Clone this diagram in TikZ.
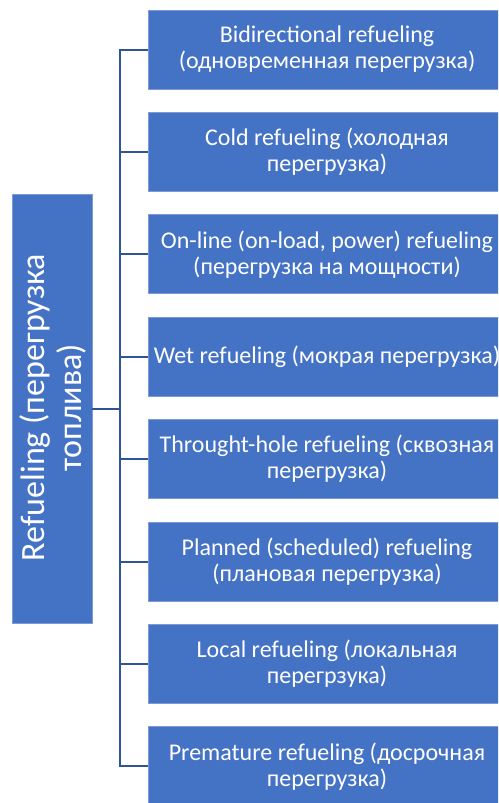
\documentclass[tikz,border=0pt]{standalone}
\usepackage{fontspec}
\setmainfont{Carlito}
\definecolor{boxfill}{HTML}{4472C4}
\definecolor{boxedge}{HTML}{7C9BD6}
\definecolor{linkblue}{HTML}{2F5597}
\begin{document}
\begin{tikzpicture}[x=1pt,y=-1pt,
  item/.style={draw=boxedge,line width=0.8pt,fill=boxfill,text=white,
    minimum width=358pt,minimum height=79pt,inner sep=0pt,align=center,
    font=\fontsize{24}{26}\selectfont},
  rootbox/.style={draw=boxedge,line width=0.8pt,fill=boxfill,text=white,
    minimum width=80pt,minimum height=429pt,inner sep=0pt},
  link/.style={draw=linkblue,line width=2pt}]
\useasboundingbox (0,0) rectangle (498,803);
\clip (0,0) rectangle (498,803);

% root node
\node[rootbox] (root) at (52,408.5) {};
\node[text=white,rotate=90,align=center,inner sep=0pt,
  font=\fontsize{34}{37}\selectfont] (roottext) at (53,407.5)
  {Refueling (перегрузка\\топлива)};

% branch nodes
\node[item] (b1) at (327,49.5)  {Bidirectional refueling\\(одновременная перегрузка)};
\node[item] (b2) at (327,151.9) {Cold refueling (холодная\\перегрузка)};
\node[item] (b3) at (327,254.3) {On-line (on-load, power) refueling\\(перегрузка на мощности)};
\node[item] (b4) at (327,356.7) {Wet refueling (мокрая перегрузка)};
\node[item] (b5) at (327,459.1) {Throught-hole refueling (сквозная\\перегрузка)};
\node[item] (b6) at (327,561.5) {Planned (scheduled) refueling\\(плановая перегрузка)};
\node[item] (b7) at (327,663.9) {Local refueling (локальная\\перегрзука)};
\node[item] (b8) at (327,766.3) {Premature refueling (досрочная\\перегрузка)};

% connectors
\coordinate (trunk) at (120,408.5);
\coordinate (top) at (120,49.5);
\coordinate (bottom) at (120,766.3);
\draw[link] (root.east) -- (trunk);
\draw[link,line cap=rect] (top) -- (bottom);
\foreach \b in {b1,b2,b3,b4,b5,b6,b7,b8}
  \draw[link] (top |- \b.west) -- (\b.west);
\end{tikzpicture}
\end{document}
